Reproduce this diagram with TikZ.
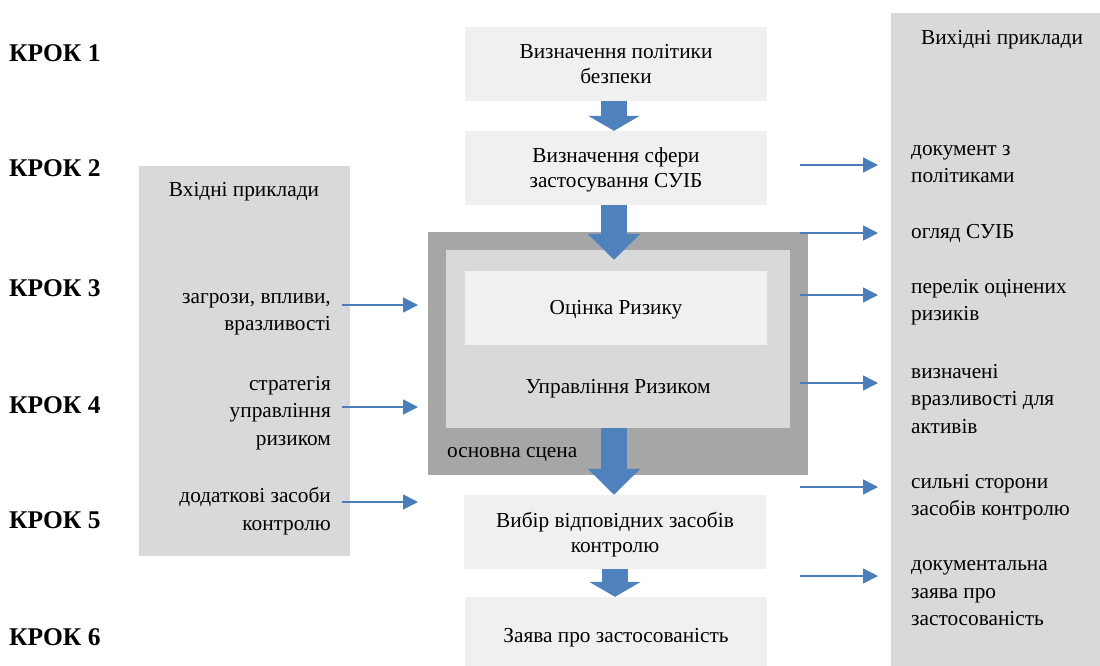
\documentclass[tikz,border=0pt]{standalone}
\usepackage{fontspec}
\setmainfont{Liberation Serif}
\usetikzlibrary{arrows.meta,positioning}

\definecolor{boxgrey}{HTML}{F0F0F0}
\definecolor{sidegrey}{HTML}{D9D9D9}
\definecolor{scenegrey}{HTML}{A6A6A6}
\definecolor{arrowblue}{HTML}{4F81BD}
\definecolor{lineblue}{HTML}{4A7EBB}

\tikzset{
  stepbox/.style={fill=boxgrey, minimum width=302pt, minimum height=74pt,
    inner sep=0pt, text depth=0pt, align=center, font=\fontsize{21.3}{25}\selectfont},
  steplabel/.style={anchor=west, inner sep=0pt, font=\fontsize{25.5}{28}\selectfont\bfseries},
  sidetext/.style={inner sep=0pt, font=\fontsize{21.3}{27.5}\selectfont},
  bigarrow/.style={arrowblue, line width=26pt, -{Triangle[width=51pt,length=#1]}},
  bigarrow/.default=25pt,
  flow/.style={lineblue, line width=1.6pt, -{Triangle[width=15pt,length=15pt]}}
}

\begin{document}
\begin{tikzpicture}[x=1pt, y=-1pt]
\useasboundingbox (0,0) rectangle (1100,665);
% Step labels
\foreach \n/\y in {1/53, 2/168, 3/288, 4/405, 5/520, 6/637}
  \node[steplabel] (krok\n) at (9,\y) {КРОК \n};
% Side panels
\node[fill=sidegrey, minimum width=211pt, minimum height=390pt] (inputs) at (244.5,361) {};
\node[sidetext] (intitle) at (244,192) {Вхідні приклади};
\node[fill=sidegrey, minimum width=215pt, minimum height=660pt, anchor=north west] (outputs) at (891,13) {};
\node[sidetext] (outtitle) at (1002,40) {Вихідні приклади};
% Main chain
\node[stepbox] (policy) at (616,64) {Визначення політики\\безпеки};
\node[stepbox] (scope) at (616,168) {Визначення сфери\\застосування СУІБ};
\node[fill=scenegrey, minimum width=380pt, minimum height=243pt, inner sep=0pt] (scene) at (618,353.5) {};
\node[fill=sidegrey, minimum width=344pt, minimum height=178pt, inner sep=0pt] (manage) at (618,339) {};
\node[stepbox] (assess) at (616,307.5) {Оцінка Ризику};
\node[sidetext] (managetext) at (618,389) {Управління Ризиком};
\node[sidetext, anchor=west] (scenetext) at (447,455) {основна сцена};
\node[stepbox] (select) at (615,532) {Вибір відповідних засобів\\контролю};
\node[stepbox, minimum height=76pt] (soa) at (616,635) {Заява про застосованість};
% Block arrows
\draw[bigarrow=15pt] ([xshift=-2pt]policy.south) -- ([xshift=-2pt]policy.south |- scope.north);
\draw[bigarrow=26pt] ([xshift=-2pt]scope.south) -- ([xshift=-2pt,yshift=-10pt]scope.south |- manage.north);
\draw[bigarrow=26pt] ([xshift=-4pt]manage.south) -- ([xshift=-4pt]manage.south |- select.north);
\draw[bigarrow=15pt] (select.south) -- (select.south |- soa.north);
% Inputs
\node[sidetext, anchor=east, align=right] (threats) at (331,314) {загрози, впливи,\\вразливості};
\node[sidetext, anchor=east, align=right] (strategy) at (331,413) {стратегія\\управління\\ризиком};
\node[sidetext, anchor=east, align=right] (extra) at (331,511) {додаткові засоби\\контролю};
\foreach \name/\y in {threats/305, strategy/407, extra/502} {
  \coordinate (\name-a) at (342,\y);
  \coordinate (\name-b) at (418,\y);
  \draw[flow] (\name-a) -- (\name-b);
}
% Outputs
\node[sidetext, anchor=west, align=left] (docpol) at (911,164) {документ з\\політиками};
\node[sidetext, anchor=west, align=left] (review) at (911,234) {огляд СУІБ};
\node[sidetext, anchor=west, align=left] (risklist) at (911,302) {перелік оцінених\\ризиків};
\node[sidetext, anchor=west, align=left] (vulns) at (911,399) {визначені\\вразливості для\\активів};
\node[sidetext, anchor=west, align=left] (strong) at (911,497) {сильні сторони\\засобів контролю};
\node[sidetext, anchor=west, align=left] (soadoc) at (911,593.5) {документальна\\заява про\\застосованість};
\foreach \name/\y in {docpol/165, review/233, risklist/295, vulns/383, strong/487, soadoc/576} {
  \coordinate (\name-a) at (800,\y);
  \coordinate (\name-b) at (878,\y);
  \draw[flow] (\name-a) -- (\name-b);
}
\end{tikzpicture}
\end{document}
